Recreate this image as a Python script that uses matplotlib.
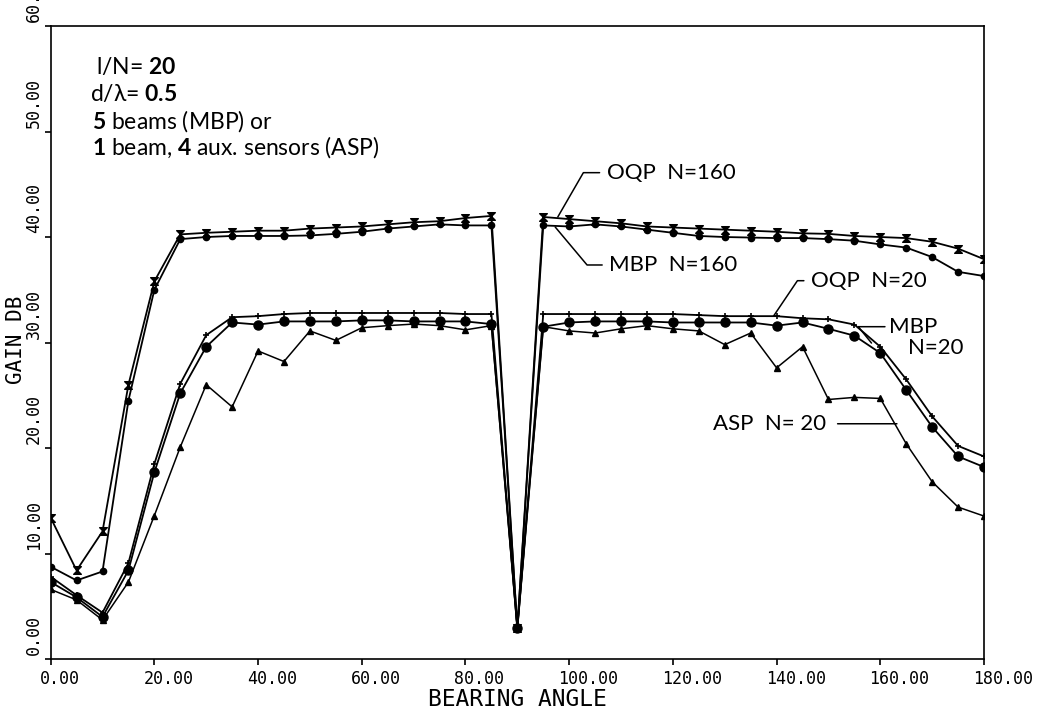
import matplotlib
matplotlib.use('Agg')
import matplotlib.pyplot as plt
import matplotlib.transforms as mtransforms
from matplotlib.path import Path

plt.rcParams['mathtext.fontset'] = 'custom'
plt.rcParams['mathtext.rm'] = 'Lato'
plt.rcParams['mathtext.bf'] = 'Lato:bold'

# Bearing angles (deg) and gains (dB)
angles = [0, 5, 10, 15, 20, 25, 30, 35, 40, 45, 50, 55, 60, 65, 70, 75, 80, 85, 90,
          95, 100, 105, 110, 115, 120, 125, 130, 135, 140, 145, 150, 155, 160, 165, 170, 175, 180]

oqp_160 = [13.4, 8.4, 12.1, 26.0, 35.8, 40.25, 40.4, 40.5, 40.6, 40.6, 40.8, 40.9, 41.0, 41.2, 41.4, 41.5, 41.8, 42.0, 2.9,
           41.9, 41.7, 41.5, 41.3, 41.0, 40.9, 40.8, 40.7, 40.6, 40.5, 40.35, 40.3, 40.1, 40.0, 39.9, 39.55, 38.9, 37.9]
mbp_160 = [8.75, 7.45, 8.3, 24.5, 35.0, 39.8, 40.0, 40.1, 40.1, 40.1, 40.15, 40.3, 40.5, 40.8, 41.0, 41.2, 41.1, 41.1, 2.9,
           41.1, 41.0, 41.2, 41.0, 40.7, 40.4, 40.1, 40.0, 39.95, 39.9, 39.9, 39.8, 39.65, 39.3, 39.0, 38.1, 36.7, 36.3]
oqp_20 = [7.8, 6.05, 4.4, 9.1, 18.5, 26.1, 30.7, 32.4, 32.5, 32.7, 32.8, 32.8, 32.8, 32.8, 32.8, 32.8, 32.7, 32.7, 2.9,
          32.7, 32.7, 32.7, 32.7, 32.7, 32.7, 32.6, 32.5, 32.5, 32.5, 32.3, 32.2, 31.7, 29.6, 26.5, 23.0, 20.2, 19.2]
mbp_20 = [7.3, 5.85, 4.0, 8.4, 17.7, 25.2, 29.6, 31.9, 31.7, 32.0, 32.0, 32.0, 32.1, 32.1, 32.0, 32.0, 32.0, 31.75, 2.9,
          31.5, 31.9, 32.0, 32.0, 32.0, 31.9, 31.9, 31.9, 31.9, 31.6, 31.9, 31.3, 30.65, 29.0, 25.5, 22.0, 19.2, 18.2]
asp_20 = [6.6, 5.6, 3.7, 7.3, 13.6, 20.1, 26.0, 23.9, 29.2, 28.2, 31.1, 30.2, 31.4, 31.6, 31.75, 31.6, 31.2, 31.6, 2.9,
          31.5, 31.1, 30.9, 31.3, 31.6, 31.3, 31.1, 29.8, 30.9, 27.6, 29.6, 24.6, 24.8, 24.7, 20.4, 16.8, 14.4, 13.55]

x_ticks = [0, 20, 40, 60, 80, 100, 120, 140, 160, 180]
y_ticks = [0, 10, 20, 30, 40, 50, 60]

mono = 'DejaVu Sans Mono'
label_font = ['Lato', 'DejaVu Sans']

fig = plt.figure(figsize=(10.38, 7.11), dpi=100)
ax = fig.add_axes([0.0488, 0.0731, 0.8992, 0.8903])

# hourglass marker for the OQP N=160 curve
hourglass = Path([(-1, 1), (1, 1), (-1, -1), (1, -1), (-1, 1)],
                 [Path.MOVETO, Path.LINETO, Path.LINETO, Path.LINETO, Path.CLOSEPOLY])

ax.plot(angles, oqp_160, color='black', lw=1.3, marker=hourglass, ms=5.5)
ax.plot(angles, mbp_160, color='black', lw=1.3, marker='o', ms=4.5)
ax.plot(angles, oqp_20, color='black', lw=1.3, marker='+', ms=5, mew=1.2)
ax.plot(angles, mbp_20, color='black', lw=1.3, marker='o', ms=6.5)
ax.plot(angles, asp_20, color='black', lw=1.1, marker='^', ms=4.5)

ax.set_xlim(0, 180)
ax.set_ylim(0, 60)

# axis ticks in the plotter style
ax.tick_params(direction='out', length=4, width=1.2, colors='black')
ax.tick_params(axis='x', pad=4)
ax.tick_params(axis='y', pad=8)
ax.set_xticks(x_ticks)
ax.set_xticklabels(['%.2f' % v for v in x_ticks], fontfamily=mono, fontsize=12)
ax.set_yticks(y_ticks)
ax.set_yticklabels(['%.2f' % v for v in y_ticks], fontfamily=mono, fontsize=12)

shift_x = mtransforms.ScaledTranslation(-11 / 100, 0, fig.dpi_scale_trans)
for lbl in ax.get_xticklabels():
    lbl.set_ha('left')
    lbl.set_transform(lbl.get_transform() + shift_x)
shift_y = mtransforms.ScaledTranslation(0, 4 / 100, fig.dpi_scale_trans)
for lbl in ax.get_yticklabels():
    lbl.set_rotation(90)
    lbl.set_ha('center')
    lbl.set_va('bottom')
    lbl.set_transform(lbl.get_transform() + shift_y)

for sp in ax.spines.values():
    sp.set_linewidth(1.2)

ax.set_xlabel('BEARING ANGLE', fontfamily=mono, fontsize=16.5, va='center')
ax.xaxis.set_label_coords(0.5, -0.0632)
ax.set_ylabel('GAIN DB', fontfamily=mono, fontsize=15, va='center', ha='center')
ax.yaxis.set_label_coords(-0.037, 0.504)

# parameter block in the upper left
info_lines = [
    'l/N= $\\mathbf{20}$',
    'd/λ= $\\mathbf{0.5}$',
    '$\\mathbf{5}$ beams (MBP) or',
    '$\\mathbf{1}$ beam, $\\mathbf{4}$ aux. sensors (ASP)',
]
info_x = [8.8, 7.6, 8.0, 8.0]
info_y = [56.1, 53.6, 51.0, 48.5]
for txt, xx, yy in zip(info_lines, info_x, info_y):
    ax.text(xx, yy, txt, fontfamily=label_font, fontsize=16.5, va='center', ha='left')

# curve labels with leader lines
lead = dict(arrowstyle='-', color='black', lw=1.1, shrinkA=3, shrinkB=0, relpos=(0, 0.5))
ax.annotate('OQP  N=160', xy=(97.8, 41.9), xytext=(107.2, 46.1), fontfamily=label_font, fontsize=16,
            va='center', ha='left',
            arrowprops=dict(lead, connectionstyle='angle,angleA=0,angleB=60,rad=0'))
ax.annotate('MBP  N=160', xy=(97.3, 40.95), xytext=(107.7, 37.35), fontfamily=label_font, fontsize=16,
            va='center', ha='left',
            arrowprops=dict(lead, connectionstyle='angle,angleA=0,angleB=-50,rad=0'))
ax.annotate('OQP  N=20', xy=(139.4, 32.5), xytext=(146.6, 35.86), fontfamily=label_font, fontsize=16,
            va='center', ha='left',
            arrowprops=dict(lead, connectionstyle='angle,angleA=0,angleB=56,rad=0'))
ax.annotate('MBP', xy=(158.3, 29.95), xytext=(161.7, 31.5), fontfamily=label_font, fontsize=16,
            va='center', ha='left',
            arrowprops=dict(lead, shrinkA=1, connectionstyle='angle,angleA=0,angleB=-51,rad=0'))
ax.text(165.3, 29.5, 'N=20', fontfamily=label_font, fontsize=16, va='center', ha='left')
ax.annotate('ASP  N= 20', xy=(163.2, 22.3), xytext=(127.8, 22.3), fontfamily=label_font, fontsize=16,
            va='center', ha='left',
            arrowprops=dict(lead, relpos=(1, 0.5), shrinkA=6))

fig.savefig('out.png', dpi=100, facecolor='white')
